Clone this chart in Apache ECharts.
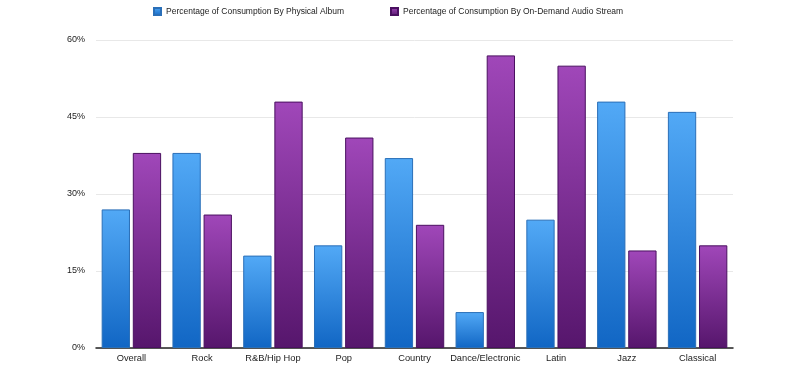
<!DOCTYPE html>
<html><head><meta charset="utf-8">
<script src="https://cdn.jsdelivr.net/npm/echarts@6/dist/echarts.min.js"></script>
<style>html,body{margin:0;padding:0;background:#fff}#c{width:800px;height:372px}</style>
</head><body><div id="c"></div>
<script>
const categories = ['Overall','Rock','R&B/Hip Hop','Pop','Country','Dance/Electronic','Latin','Jazz','Classical'];
const physicalAlbum = [27,38,18,20,37,7,25,48,46];
const audioStream = [38,26,48,41,24,57,55,19,20];
const seriesNames = ['Percentage of Consumption By Physical Album','Percentage of Consumption By On-Demand Audio Stream'];
const yTicks = [0,15,30,45,60];

const font = 'Liberation Sans, Arial, Helvetica, sans-serif';
const chart = echarts.init(document.getElementById('c'), null, {renderer:'canvas'});
const grad = (top, bottom) => new echarts.graphic.LinearGradient(0,0,0,1,[{offset:0,color:top},{offset:1,color:bottom}]);
chart.setOption({
  animation:false,
  backgroundColor:'#fff',
  textStyle:{fontFamily:font},
  legend:[
    {data:[seriesNames[0]], left:148, top:2, itemWidth:7, itemHeight:7, icon:'rect',
     textStyle:{fontSize:8.5, color:'#222', fontFamily:font}},
    {data:[seriesNames[1]], left:385, top:2, itemWidth:7, itemHeight:7, icon:'rect',
     textStyle:{fontSize:8.5, color:'#222', fontFamily:font}}
  ],
  grid:{left:96, right:67, top:40, bottom:24, containLabel:false},
  xAxis:{type:'category', data:categories,
    axisLine:{lineStyle:{color:'#222', width:1.5}}, axisTick:{show:false},
    axisLabel:{fontSize:9.3, color:'#222', margin:6, interval:0, fontFamily:font}},
  yAxis:{type:'value', min:yTicks[0], max:yTicks[yTicks.length-1], interval:15,
    axisLine:{show:false}, axisTick:{show:false},
    axisLabel:{fontSize:9, color:'#222', margin:11, formatter:'{value}%', fontFamily:font},
    splitLine:{lineStyle:{color:'#e8e8e8', width:1}}},
  series:[
    {name:seriesNames[0], type:'bar', data:physicalAlbum, barCategoryGap:'16%', barGap:'10%',
     itemStyle:{color:grad('#52a9f6','#1166c4'), borderColor:'#2a6fb8', borderWidth:1}},
    {name:seriesNames[1], type:'bar', data:audioStream, barCategoryGap:'16%', barGap:'10%',
     itemStyle:{color:grad('#a047b9','#56166c'), borderColor:'#4a1060', borderWidth:1}}
  ]
});
</script></body></html>
